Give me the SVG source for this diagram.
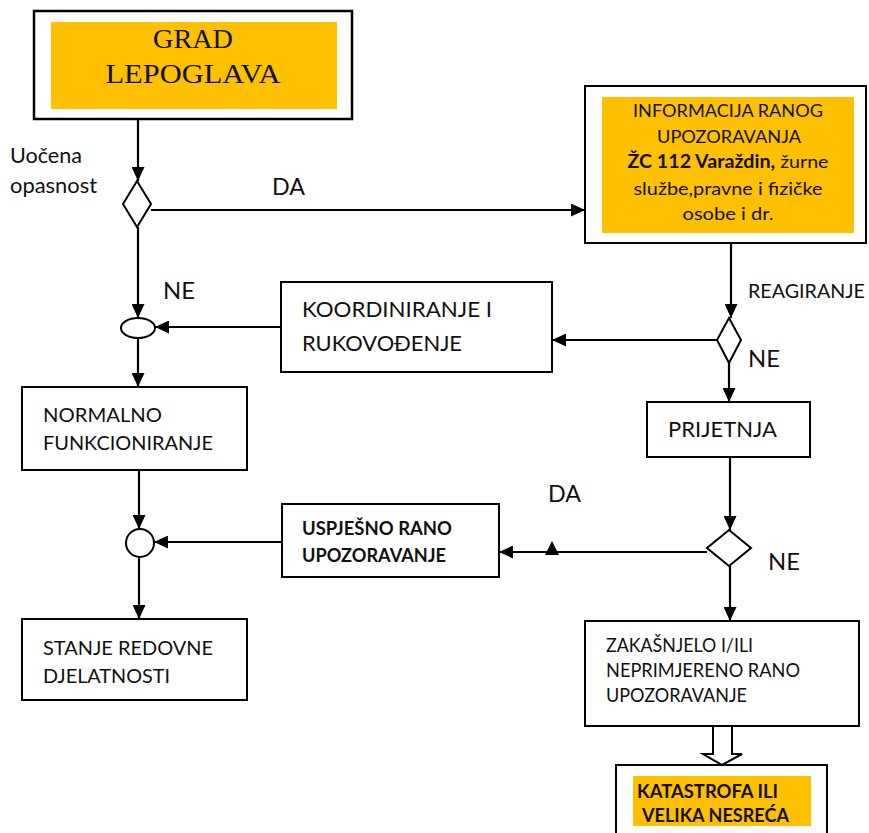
<svg xmlns="http://www.w3.org/2000/svg" width="869" height="833" viewBox="0 0 869 833">
<defs>
<marker id="ah" markerUnits="userSpaceOnUse" markerWidth="15" markerHeight="13" refX="14" refY="6.5" orient="auto">
<path d="M0,0 L14,6.5 L0,13 z" fill="#000"/>
</marker>
<style>
.box{fill:#fff;stroke:#000;stroke-width:2}
.org{fill:#FFC000}
.sh{fill:#fff;stroke:#000;stroke-width:2}
.c{fill:none;stroke:#000;stroke-width:2.2;marker-end:url(#ah)}
.t{font-family:Lato,"Open Sans",sans-serif;font-size:20px;fill:#111}
.b{font-family:Lato,"Open Sans",sans-serif;font-size:18.5px;font-weight:bold;fill:#111}
.big{font-family:Lato,"Open Sans",sans-serif;font-size:24px;fill:#111}
.s{font-family:"Liberation Serif",serif;font-size:28px;fill:#111;text-anchor:middle}
</style>
</defs>
<rect width="869" height="833" fill="#fff"/>

<g id="grad">
<rect x="34" y="11" width="318" height="108" fill="#fff" stroke="#000" stroke-width="2.5"/>
<rect class="org" x="51" y="22" width="286" height="87"/>
<text class="s" x="193" y="48" textLength="80" lengthAdjust="spacingAndGlyphs">GRAD</text>
<text class="s" x="193" y="83" textLength="175" lengthAdjust="spacingAndGlyphs">LEPOGLAVA</text>
</g>

<g id="d1">
<polygon class="sh" points="137,181 151,204 137,227 123,204"/>
<text class="t" style="font-size:21px" x="10" y="163" textLength="72" lengthAdjust="spacingAndGlyphs">Uočena</text>
<text class="t" style="font-size:21px" x="10" y="193" textLength="87" lengthAdjust="spacingAndGlyphs">opasnost</text>
</g>

<g id="info">
<rect class="box" x="585" y="86" width="281" height="157"/>
<rect class="org" x="602" y="97" width="252" height="136"/>
<g class="t" style="font-size:18px" text-anchor="middle">
<text x="728" y="117" textLength="190" lengthAdjust="spacingAndGlyphs">INFORMACIJA RANOG</text>
<text x="729" y="143" textLength="144" lengthAdjust="spacingAndGlyphs">UPOZORAVANJA</text>
<text x="728" y="168" textLength="201" lengthAdjust="spacingAndGlyphs"><tspan font-weight="bold">ŽC 112 Varaždin,</tspan> žurne</text>
<text x="728" y="195" textLength="189" lengthAdjust="spacingAndGlyphs">službe,pravne i fizičke</text>
<text x="728" y="220" textLength="91" lengthAdjust="spacingAndGlyphs">osobe i dr.</text>
</g>
</g>

<g id="d2">
<polygon class="sh" points="729,318 741,340 729,363 717,340"/>
</g>

<g id="koord">
<rect class="box" x="281" y="282" width="271" height="90"/>
<text class="t" style="font-size:21px" x="302" y="317" textLength="190" lengthAdjust="spacingAndGlyphs">KOORDINIRANJE I</text>
<text class="t" style="font-size:21px" x="302" y="351" textLength="160" lengthAdjust="spacingAndGlyphs">RUKOVOĐENJE</text>
</g>

<g id="e1">
<ellipse class="sh" cx="138" cy="328" rx="17" ry="10"/>
</g>

<g id="normalno">
<rect class="box" x="22" y="387" width="225" height="83"/>
<text class="t" x="43" y="422" textLength="119" lengthAdjust="spacingAndGlyphs">NORMALNO</text>
<text class="t" x="43" y="450" textLength="170" lengthAdjust="spacingAndGlyphs">FUNKCIONIRANJE</text>
</g>

<g id="prijetnja">
<rect class="box" x="647" y="402" width="163" height="55"/>
<text class="t" style="font-size:21px" x="668" y="437" textLength="109" lengthAdjust="spacingAndGlyphs">PRIJETNJA</text>
</g>

<g id="d3">
<polygon class="sh" points="729,530 751,548 729,566 707,548"/>
</g>

<g id="c1">
<circle class="sh" cx="140" cy="543" r="14"/>
</g>

<g id="uspjesno">
<rect class="box" x="282" y="504" width="217" height="73"/>
<text class="b" x="302" y="535" textLength="150" lengthAdjust="spacingAndGlyphs">USPJEŠNO RANO</text>
<text class="b" x="302" y="562" textLength="144" lengthAdjust="spacingAndGlyphs">UPOZORAVANJE</text>
</g>

<g id="stanje">
<rect class="box" x="22" y="619" width="225" height="81"/>
<text class="t" x="43" y="655" textLength="170" lengthAdjust="spacingAndGlyphs">STANJE REDOVNE</text>
<text class="t" x="43" y="683" textLength="127" lengthAdjust="spacingAndGlyphs">DJELATNOSTI</text>
</g>

<g id="zak">
<rect class="box" x="585" y="621" width="274" height="105"/>
<text class="t" x="606" y="652" textLength="147" lengthAdjust="spacingAndGlyphs">ZAKAŠNJELO I/ILI</text>
<text class="t" x="606" y="677" textLength="194" lengthAdjust="spacingAndGlyphs">NEPRIMJERENO RANO</text>
<text class="t" x="606" y="702" textLength="141" lengthAdjust="spacingAndGlyphs">UPOZORAVANJE</text>
</g>

<g id="katastrofa">
<rect class="box" x="616" y="765" width="211" height="80"/>
<rect class="org" x="633" y="776" width="178" height="50"/>
<text class="b" x="637" y="798" textLength="141" lengthAdjust="spacingAndGlyphs">KATASTROFA ILI</text>
<text class="b" x="642" y="822" textLength="147" lengthAdjust="spacingAndGlyphs">VELIKA NESREĆA</text>
</g>

<g id="connectors">
<path class="c" d="M138,119 V181"/>
<path class="c" d="M151,210 H585"/>
<path class="c" d="M138,227 V318"/>
<path class="c" d="M281,327 H155"/>
<path class="c" d="M138,338 V387"/>
<path class="c" d="M139,470 V529"/>
<path class="c" d="M282,542 H154"/>
<path class="c" d="M139,557 V619"/>
<path class="c" d="M731,243 V318"/>
<path class="c" d="M717,340 H552"/>
<path class="c" d="M729,363 V402"/>
<path class="c" d="M730,457 V530"/>
<path class="c" d="M707,552 H499"/>
<path class="c" d="M730,566 V621"/>
<polygon points="552,541 559,555 545,555" fill="#000"/>
<polygon points="713,726 732,726 732,754 742,754 722,765 703,754 713,754" fill="#fff" stroke="#000" stroke-width="2"/>
<text class="big" x="272" y="195" textLength="33" lengthAdjust="spacingAndGlyphs">DA</text>
<text class="big" x="163" y="299" textLength="32" lengthAdjust="spacingAndGlyphs">NE</text>
<text class="t" x="748" y="298" textLength="117" lengthAdjust="spacingAndGlyphs">REAGIRANJE</text>
<text class="big" x="748" y="367" textLength="32" lengthAdjust="spacingAndGlyphs">NE</text>
<text class="big" x="548" y="502" textLength="33" lengthAdjust="spacingAndGlyphs">DA</text>
<text class="big" x="768" y="570" textLength="32" lengthAdjust="spacingAndGlyphs">NE</text>
</g>
</svg>
